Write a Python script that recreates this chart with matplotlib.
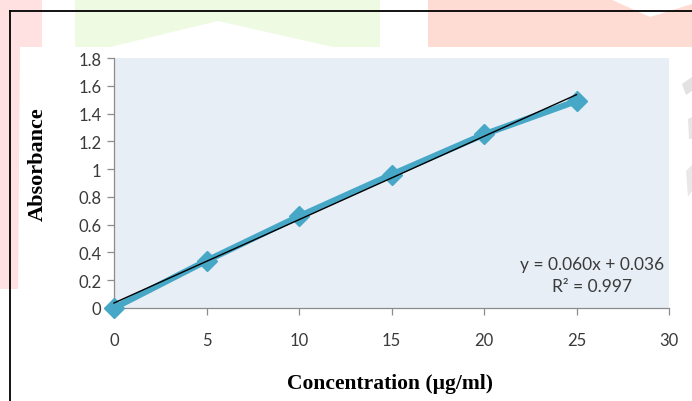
import matplotlib
matplotlib.use("Agg")
import matplotlib.pyplot as plt
from matplotlib.patches import Polygon
from matplotlib.lines import Line2D

# Calibration data
concentration = [0, 5, 10, 15, 20, 25]
absorbance = [0.0, 0.34, 0.66, 0.96, 1.25, 1.49]
slope = 0.060
intercept = 0.036
r_squared = 0.997

x_ticks = [0, 5, 10, 15, 20, 25, 30]
y_ticks = [0, 0.2, 0.4, 0.6, 0.8, 1.0, 1.2, 1.4, 1.6, 1.8]

W, H = 692, 402
fig = plt.figure(figsize=(W / 100, H / 100), dpi=100)
fig.patch.set_facecolor("white")


def px(x, y):
    # pixel coordinates (top-left origin) -> figure fraction
    return (x / W, 1 - y / H)


def bg_shape(points, color):
    fig.patches.append(Polygon([px(*p) for p in points], closed=True,
                               transform=fig.transFigure, facecolor=color,
                               edgecolor="none", zorder=0))


# Watermark-like background shapes
bg_shape([(0, 0), (42, 0), (42, 48), (20, 48), (18, 290), (0, 290)], "#ffe1e1")
bg_shape([(75, 0), (380, 0), (380, 48), (333, 48), (218, 22), (110, 48), (75, 48)], "#eefbe2")
bg_shape([(428, 0), (610, 0), (650, 18), (692, 5), (692, 48), (428, 48)], "#ffdcd3")
bg_shape([(682, 85), (692, 78), (692, 92), (686, 96)], "#e2e2e2")
bg_shape([(688, 120), (692, 118), (692, 140), (689, 140)], "#e6e6e6")
bg_shape([(686, 172), (692, 166), (692, 192), (688, 198)], "#e8e8e8")

# Outer border (top and left)
fig.lines.append(Line2D([10 / W, 1], [1 - 12 / H, 1 - 12 / H], transform=fig.transFigure,
                        color="black", linewidth=1.3))
fig.lines.append(Line2D([10 / W, 10 / W], [0, 1 - 12 / H], transform=fig.transFigure,
                        color="black", linewidth=1.3))

left, right, top, bottom = 114, 669, 59, 309
ax = fig.add_axes([left / W, 1 - bottom / H, (right - left) / W, (bottom - top) / H])
ax.set_facecolor("#e8eef5")

ax.plot(concentration, absorbance, color="#47a7c6", linewidth=4.5, marker="D",
        markersize=10, clip_on=False, zorder=3)

trend_x = [concentration[0], concentration[-1]]
trend_y = [slope * x + intercept for x in trend_x]
ax.plot(trend_x, trend_y, color="black", linewidth=1.0, zorder=4, clip_on=False)

ax.set_xlim(0, 30)
ax.set_ylim(0, 1.8)
ax.set_xticks(x_ticks)
ax.set_yticks(y_ticks)
ax.set_xticklabels([f"{t:g}" for t in x_ticks])
ax.set_yticklabels([f"{t:g}" for t in y_ticks])

for s in ["top", "right"]:
    ax.spines[s].set_visible(False)
for s in ["left", "bottom"]:
    ax.spines[s].set_color("#8c8c8c")
    ax.spines[s].set_linewidth(0.9)

ax.tick_params(axis="both", direction="out", length=5, color="#8c8c8c", width=0.9,
               labelsize=12, labelcolor="#3a3a3a")
ax.tick_params(axis="x", pad=12)
ax.tick_params(axis="y", pad=4)
for lbl in ax.get_xticklabels() + ax.get_yticklabels():
    lbl.set_fontfamily("Lato")

ax.text(0.862, 0.176, f"y = {slope:.3f}x + {intercept:.3f}", transform=ax.transAxes,
        ha="center", va="center", fontsize=12.5, family="Lato", color="#3a3a3a")
ax.text(0.862, 0.088, f"R² = {r_squared:.3f}", transform=ax.transAxes,
        ha="center", va="center", fontsize=12.5, family="Lato", color="#3a3a3a")

fig.text(390 / W, 1 - 384 / H, "Concentration (µg/ml)", ha="center", va="center",
         fontsize=15.5, fontweight="bold", family="Liberation Serif")
fig.text(38 / W, 1 - 164 / H, "Absorbance", ha="center", va="center", rotation=90,
         fontsize=16, fontweight="bold", family="Liberation Serif")

fig.savefig("out.png", dpi=100, facecolor=fig.get_facecolor())
